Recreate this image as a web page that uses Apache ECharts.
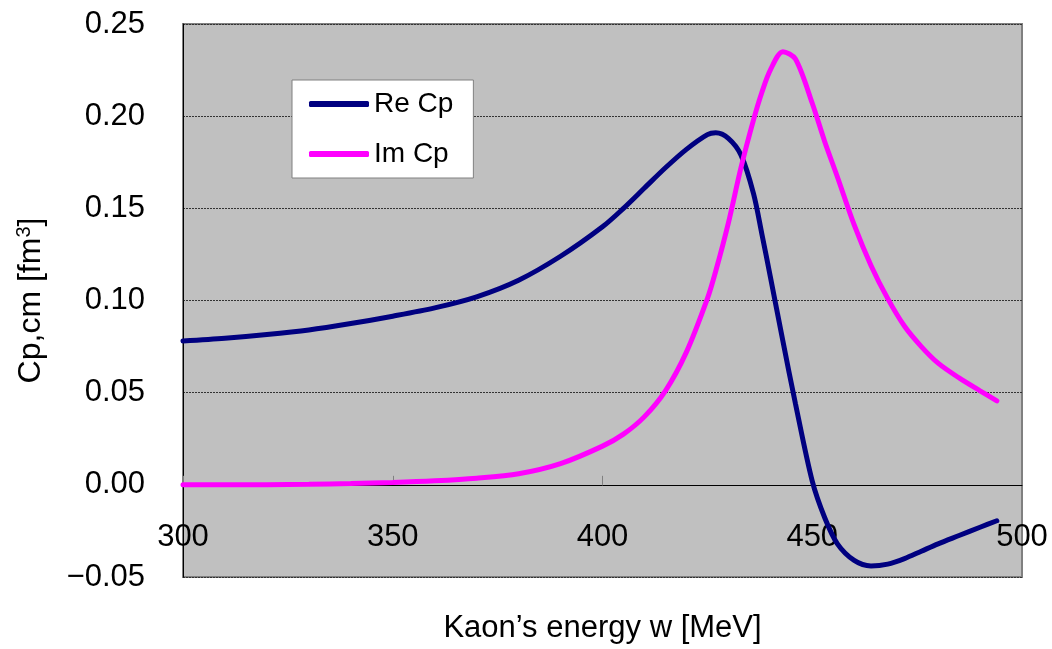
<!DOCTYPE html>
<html>
<head>
    <meta charset="utf-8">
    <title>Cp</title>
    <script src="https://cdn.jsdelivr.net/npm/echarts@6/dist/echarts.min.js"></script>
    <style>
        html, body { margin: 0; padding: 0; background: #fff; }
        #main { width: 1052px; height: 649px; }
    </style>
</head>
<body>
<div id="main"></div>
<script>
    // kaon energy w [MeV]
    var energy = [300, 310, 320, 330, 340, 350, 360, 370, 380, 390, 400, 405, 410, 415, 420, 425, 427, 430,
        433, 436, 438, 440, 443, 446, 450, 453, 456, 460, 464, 468, 472, 476, 480, 485, 490, 494];
    var reCp = [0.078, 0.0795, 0.0815, 0.084, 0.0875, 0.0915, 0.096, 0.102, 0.111, 0.124, 0.140, 0.150, 0.161,
        0.172, 0.182, 0.190, 0.191, 0.188, 0.179, 0.158, 0.136, 0.113, 0.078, 0.044, 0.002, -0.018, -0.032,
        -0.041, -0.044, -0.043, -0.040, -0.036, -0.032, -0.0275, -0.023, -0.0195];
    var imCp = [0, 0, 0.0001, 0.0003, 0.0007, 0.0013, 0.0022, 0.0036, 0.006, 0.0115, 0.021, 0.0275, 0.037,
        0.051, 0.072, 0.101, 0.116, 0.142, 0.172, 0.198, 0.213, 0.225, 0.235, 0.231, 0.207, 0.186, 0.167,
        0.141, 0.119, 0.101, 0.086, 0.075, 0.066, 0.058, 0.051, 0.0455];
    var seriesNames = ['Re Cp', 'Im Cp'];

    function pairs(ys) {
        var out = [];
        for (var i = 0; i < energy.length; i++) out.push([energy[i], ys[i]]);
        return out;
    }

    var font = "'Liberation Sans', Arial, sans-serif";

    var option = {
        backgroundColor: '#fff',
        animation: false,
        grid: {
            left: 183, top: 24, right: 30, bottom: 72,
            containLabel: false,
            outerBoundsMode: 'none',
            show: true,
            backgroundColor: '#c0c0c0',
            borderColor: '#808080',
            borderWidth: 2
        },
        legend: {
            orient: 'vertical',
            left: 292, top: 80,
            data: seriesNames,
            icon: 'roundRect',
            itemWidth: 60, itemHeight: 6,
            itemGap: 20,
            padding: [9, 20, 9, 17],
            backgroundColor: '#fff',
            borderColor: '#808080',
            borderWidth: 1,
            textStyle: { fontFamily: font, fontSize: 28, color: '#000', lineHeight: 30 }
        },
        xAxis: {
            type: 'value',
            min: 300, max: 500, interval: 50,
            name: 'Kaon\u2019s energy w [MeV]',
            nameLocation: 'middle',
            nameGap: 36,
            nameTextStyle: { fontFamily: font, fontSize: 31, color: '#000' },
            axisLine: { onZero: true, lineStyle: { color: '#000', width: 1 } },
            axisTick: { inside: true, length: 9, lineStyle: { color: '#808080' } },
            axisLabel: { margin: -55, fontFamily: font, fontSize: 31, color: '#000' },
            splitLine: { show: false }
        },
        yAxis: {
            type: 'value',
            min: -0.05, max: 0.25, interval: 0.05,
            name: '{a|Cp,cm [fm}{s|3}{a|]}',
            nameLocation: 'middle',
            nameGap: 134,
            nameTextStyle: {
                rich: {
                    a: { fontFamily: font, fontSize: 32, color: '#000' },
                    s: { fontFamily: font, fontSize: 20, color: '#000', verticalAlign: 'top', padding: [0, 0, 15, 0] }
                }
            },
            axisLine: { show: true, lineStyle: { color: '#000', width: 1 } },
            axisTick: { show: false },
            axisLabel: {
                margin: 38, fontFamily: font, fontSize: 31, color: '#000',
                formatter: function (v) {
                    var s = Math.abs(v).toFixed(2);
                    return v < -1e-9 ? '\u22120' + s.slice(1) : s;
                }
            },
            splitLine: { show: true, lineStyle: { color: '#333', type: [2, 1], width: 1 } }
        },
        series: [
            {
                name: seriesNames[0], type: 'line', smooth: 0.3, showSymbol: false,
                lineStyle: { color: '#000080', width: 5, cap: 'round' },
                itemStyle: { color: '#000080' },
                data: pairs(reCp)
            },
            {
                name: seriesNames[1], type: 'line', smooth: 0.3, showSymbol: false,
                lineStyle: { color: '#ff00ff', width: 5, cap: 'round' },
                itemStyle: { color: '#ff00ff' },
                data: pairs(imCp)
            }
        ]
    };

    var chart = echarts.init(document.getElementById('main'));
    chart.setOption(option);
</script>
</body>
</html>
